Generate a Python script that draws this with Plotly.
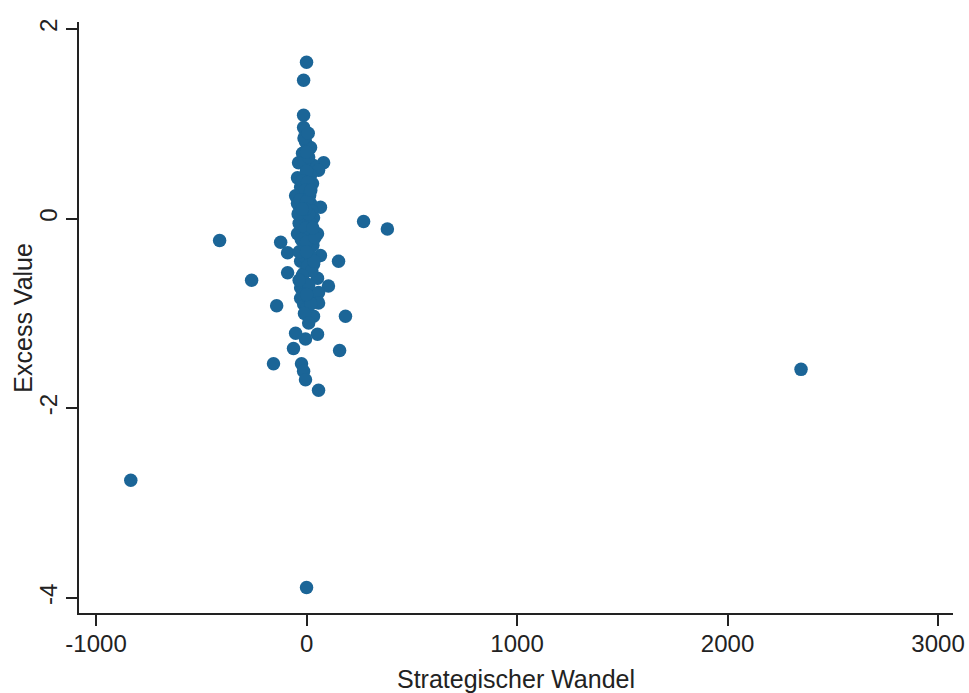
import plotly.graph_objects as go

# Strategic change vs. excess value per firm
strategischer_wandel = [
    0, -14, -835, 0, 2349, -413, 271, 384, -261, -142, -157, 152, 185, 157, 57,
    -123, -90, -90, 104, 66, 81, -14, -14, -5, 19, -19, -38, 33, 57, -43, 19,
    -28, 28, -52, 5, -43, 19, 66, -28, 33, -43, 52, -14, -28, 33, -14, 52, -28,
    19, 57, -28, -14, 57, 33, 52, -5, -52, -62, -24, -14, -5,
    -10, 10, 0, -20, 5, -5, 15, -30, 0, 25, -15, 5, -35, 20, -5, 10, -25, 30,
    0, -10, 15, -35, 5, 25, -20, -5, 35, 10, -15, 0, 20, -35, 40, -40, 10, -5,
    0, 20, -20, 30, 0, -10, 10, 0, -12, 8,
]
excess_value = [
    1.65, 1.46, -2.76, -3.89, -1.59, -0.23, -0.03, -0.11, -0.65, -0.92, -1.53,
    -0.45, -1.03, -1.39, -1.81, -0.25, -0.36, -0.57, -0.71, -0.39, 0.59, 1.09,
    0.96, 0.81, 0.75, 0.69, 0.59, 0.56, 0.51, 0.43, 0.46, 0.33, 0.37, 0.24,
    0.27, 0.16, 0.16, 0.12, -0.02, 0.01, -0.16, -0.16, -0.31, -0.45, -0.48,
    -0.58, -0.63, -0.73, -0.78, -0.78, -0.84, -0.90, -0.89, -1.03, -1.22,
    -1.27, -1.21, -1.37, -1.53, -1.61, -1.70,
    0.6, 0.65, 0.5, 0.4, 0.38, 0.3, 0.25, 0.2, 0.18, 0.08, 0.05, 0.0, -0.05,
    -0.05, -0.1, -0.2, -0.22, -0.28, -0.25, -0.4, -0.38, -0.35, -0.5, -0.55,
    -0.6, -0.68, -0.45, -0.7, -0.8, -0.95, -0.9, -0.65, -0.2, 0.05, 0.05, 0.1,
    -0.35, 0.3, 0.1, -0.1, -0.8, -1.0, -1.1, 0.7, 0.85, 0.9,
]

x_ticks = [-1000, 0, 1000, 2000, 3000]
y_ticks = [-4, -2, 0, 2]

marker_color = "#1b6597"
ink = "#222222"
font_family = "Liberation Sans, Arial, sans-serif"

fig = go.Figure(
    go.Scatter(
        x=strategischer_wandel,
        y=excess_value,
        mode="markers",
        marker=dict(size=13.5, color=marker_color, line=dict(width=0)),
        hoverinfo="x+y",
    )
)

fig.update_layout(
    width=969,
    height=693,
    margin=dict(l=79, r=16, t=22, b=80),
    paper_bgcolor="white",
    plot_bgcolor="white",
    showlegend=False,
    font=dict(family=font_family, size=24, color=ink),
)

fig.update_xaxes(
    range=[-1081, 3071],
    tickvals=x_ticks,
    ticktext=[str(v) for v in x_ticks],
    showgrid=False,
    zeroline=False,
    showline=True,
    linecolor=ink,
    linewidth=1.5,
    ticks="outside",
    ticklen=11,
    tickwidth=1.5,
    tickcolor=ink,
    tickfont=dict(size=24, color=ink),
    ticklabelstandoff=-3,
    title=dict(text="Strategischer Wandel", font=dict(size=25, color=ink), standoff=15),
    automargin=False,
)

fig.update_yaxes(
    range=[-4.16, 2.074],
    tickvals=y_ticks,
    ticktext=[str(v) for v in y_ticks],
    tickangle=-90,
    showgrid=False,
    zeroline=False,
    showline=True,
    linecolor=ink,
    linewidth=1.5,
    ticks="outside",
    ticklen=11,
    tickwidth=1.5,
    tickcolor=ink,
    tickfont=dict(size=24, color=ink),
    ticklabelstandoff=0,
    automargin=False,
)

# Vertical y-axis title placed to the left of the tick labels
fig.add_annotation(
    text="Excess Value",
    xref="paper",
    yref="paper",
    x=-0.065,
    y=0.5,
    xanchor="center",
    yanchor="middle",
    textangle=-90,
    showarrow=False,
    font=dict(size=25, color=ink, family=font_family),
)

fig.write_html("out.html")
